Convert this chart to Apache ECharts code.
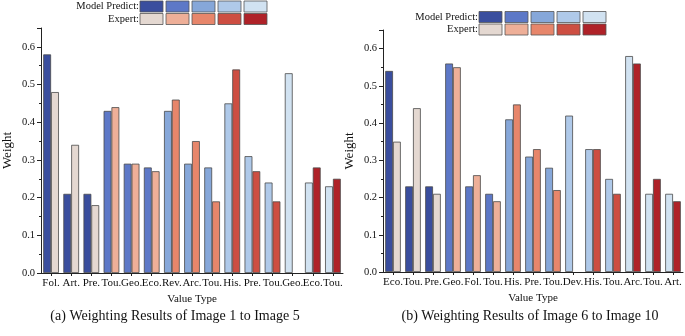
<!DOCTYPE html>
<html>
<head>
<meta charset="utf-8">
<script src="https://cdn.jsdelivr.net/npm/echarts@6/dist/echarts.min.js"></script>
<style>
  html, body { margin: 0; padding: 0; background: #fff; }
  #main { width: 685px; height: 336px; }
</style>
</head>
<body>
<div id="main"></div>
<script>
// panel (a): images 1-5
const catsA = ['Fol.', 'Art.', 'Pre.', 'Tou.', 'Geo.', 'Eco.', 'Rev.', 'Arc.', 'Tou.', 'His.', 'Pre.', 'Tou.', 'Geo.', 'Eco.', 'Tou.'];
const modelA = [0.58, 0.21, 0.21, 0.43, 0.29, 0.28, 0.43, 0.29, 0.28, 0.45, 0.31, 0.24, 0.53, 0.24, 0.23];
const expertA = [0.48, 0.34, 0.18, 0.44, 0.29, 0.27, 0.46, 0.35, 0.19, 0.54, 0.27, 0.19, null, 0.28, 0.25];

// panel (b): images 6-10
const catsB = ['Eco.', 'Tou.', 'Pre.', 'Geo.', 'Fol.', 'Tou.', 'His.', 'Pre.', 'Tou.', 'Dev.', 'His.', 'Tou.', 'Arc.', 'Tou.', 'Art.'];
const modelB = [0.54, 0.23, 0.23, 0.56, 0.23, 0.21, 0.41, 0.31, 0.28, 0.42, 0.33, 0.25, 0.58, 0.21, 0.21];
const expertB = [0.35, 0.44, 0.21, 0.55, 0.26, 0.19, 0.45, 0.33, 0.22, null, 0.33, 0.21, 0.56, 0.25, 0.19];

const yTicks = [0, 0.1, 0.2, 0.3, 0.4, 0.5, 0.6];

const blues = ['#3A4E9E', '#5D78C7', '#86A7D9', '#AFC9E9', '#D1E2F1'];
const reds = ['#E4D8D1', '#EEAF98', '#E7866B', '#CD4E42', '#AF2228'];

const font = 'Liberation Serif';
const chart = echarts.init(document.getElementById('main'));

function barData(vals, shades) {
  return vals.map((v, i) => ({
    value: v,
    itemStyle: { color: shades[Math.floor(i / 3)] }
  }));
}

function xAxisFor(idx, cats) {
  return {
    type: 'category',
    gridIndex: idx,
    data: cats,
    name: 'Value Type',
    nameLocation: 'middle',
    nameGap: 14,
    nameTextStyle: { fontFamily: font, fontSize: 11, color: '#111' },
    axisLine: { lineStyle: { color: '#222', width: 1 } },
    axisTick: { show: true, alignWithLabel: true, length: 3, lineStyle: { color: '#222' } },
    axisLabel: { interval: 0, fontFamily: font, fontSize: 11, color: '#111', margin: 5 }
  };
}

function yAxisFor(idx) {
  return {
    type: 'value',
    gridIndex: idx,
    min: 0,
    max: 0.65,
    interval: 0.1,
    name: 'Weight',
    nameLocation: 'middle',
    nameGap: 27,
    nameTextStyle: { fontFamily: font, fontSize: 13, color: '#111' },
    axisLine: { show: true, lineStyle: { color: '#222', width: 1 } },
    axisTick: { show: true, length: 4, lineStyle: { color: '#222' } },
    minorTick: { show: true, splitNumber: 2, length: 2, lineStyle: { color: '#222' } },
    splitLine: { show: false },
    axisLabel: {
      fontFamily: font, fontSize: 10.5, color: '#111', margin: 6,
      formatter: v => yTicks.some(t => Math.abs(t - v) < 1e-6) ? v.toFixed(1) : ''
    }
  };
}

function barSeries(x, vals, shades) {
  return {
    type: 'bar',
    xAxisIndex: x,
    yAxisIndex: x,
    data: barData(vals, shades),
    barGap: '0%',
    barCategoryGap: '22%',
    itemStyle: { borderColor: '#4a4a4a', borderWidth: 0.8 }
  };
}

// custom legend blocks (swatches in the same shades as the bars)
function legendGraphic(textRight, sx, y0) {
  const g = [];
  const rows = [['Model Predict:', blues], ['Expert:', reds]];
  rows.forEach((r, ri) => {
    const y = y0 + ri * 12.5;
    g.push({
      type: 'text', x: textRight, y: y + 5.5,
      style: { text: r[0], align: 'right', verticalAlign: 'middle', fontFamily: font, fontSize: 10.5, fill: '#111' }
    });
    r[1].forEach((c, i) => {
      g.push({
        type: 'rect',
        shape: { x: sx + i * 26, y: y, width: 23, height: 11 },
        style: { fill: c, stroke: '#555', lineWidth: 0.8 }
      });
    });
  });
  return g;
}

const option = {
  animation: false,
  backgroundColor: '#fff',
  title: [
    {
      text: '(a) Weighting Results of Image 1 to Image 5',
      left: 170, top: 304, textAlign: 'center',
      textStyle: { fontFamily: font, fontSize: 14, fontWeight: 'normal', color: '#111' }
    },
    {
      text: '(b) Weighting Results of Image 6 to Image 10',
      left: 525, top: 304, textAlign: 'center',
      textStyle: { fontFamily: font, fontSize: 14, fontWeight: 'normal', color: '#111' }
    }
  ],
  grid: [
    { left: 36, right: 342, top: 28, bottom: 63 },
    { left: 383, right: 2, top: 30, bottom: 64 }
  ],
  xAxis: [xAxisFor(0, catsA), xAxisFor(1, catsB)],
  yAxis: [yAxisFor(0), yAxisFor(1)],
  series: [
    barSeries(0, modelA, blues),
    barSeries(0, expertA, reds),
    barSeries(1, modelB, blues),
    barSeries(1, expertB, reds)
  ],
  graphic: legendGraphic(139, 140, 1).concat(legendGraphic(478, 479, 11.5))
};

chart.setOption(option);
window.onresize = () => chart.resize();
</script>
</body>
</html>
